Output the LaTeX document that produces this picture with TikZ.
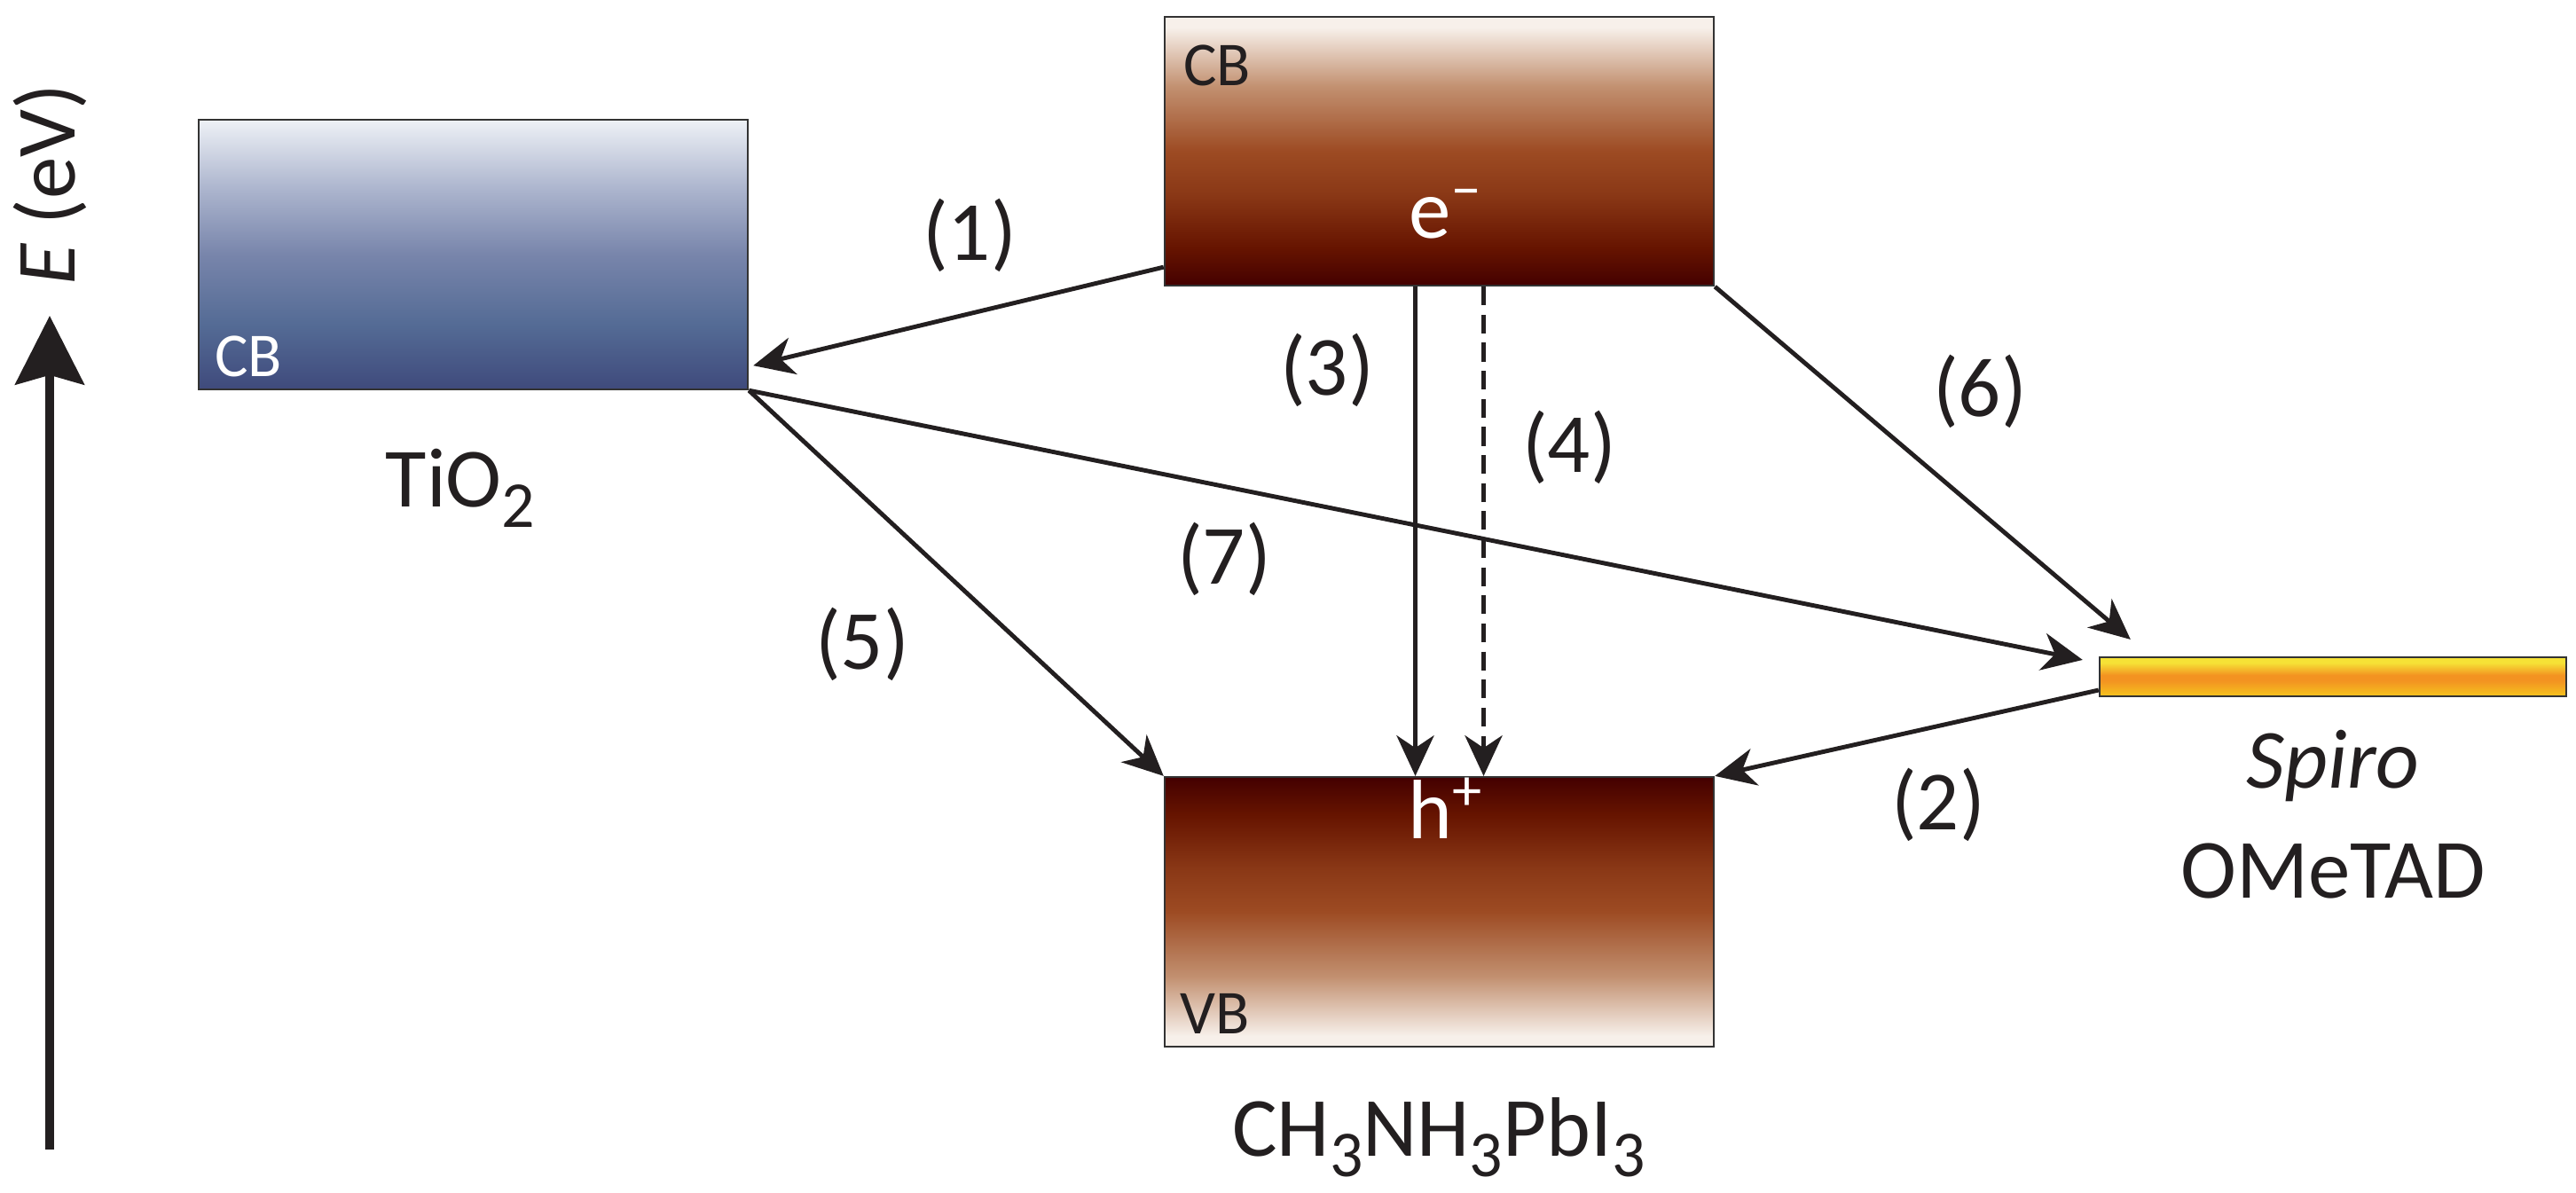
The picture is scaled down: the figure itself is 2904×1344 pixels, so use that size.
\documentclass[tikz,border=0pt]{standalone}
\usepackage{fontspec}
\setmainfont{Carlito}
\usetikzlibrary{arrows.meta,calc}
\definecolor{ink}{HTML}{231F20}
\definecolor{boxline}{HTML}{333333}
\definecolor{tioA}{HTML}{EEF1F6}
\definecolor{tioB}{HTML}{ABB4CD}
\definecolor{tioC}{HTML}{7885AB}
\definecolor{tioD}{HTML}{546B95}
\definecolor{tioE}{HTML}{3F4A7C}
\definecolor{pkA}{HTML}{F7F0EA}
\definecolor{pkB}{HTML}{C29070}
\definecolor{pkC}{HTML}{9D4B23}
\definecolor{pkD}{HTML}{8A3816}
\definecolor{pkE}{HTML}{661400}
\definecolor{pkF}{HTML}{440000}
\definecolor{spA}{HTML}{F6E236}
\definecolor{spB}{HTML}{F39321}
\definecolor{spC}{HTML}{F5C41E}
\pgfdeclareverticalshading{tioshade}{100bp}{color(0bp)=(tioE); color(25bp)=(tioE);
  color(37bp)=(tioD); color(50bp)=(tioC); color(62bp)=(tioB); color(75bp)=(tioA); color(100bp)=(tioA)}
\pgfdeclareverticalshading{cbshade}{100bp}{color(0bp)=(pkF); color(25bp)=(pkF);
  color(32bp)=(pkE); color(42bp)=(pkD); color(50bp)=(pkC); color(62bp)=(pkB); color(73bp)=(pkA); color(100bp)=(pkA)}
\pgfdeclareverticalshading{vbshade}{100bp}{color(0bp)=(pkA); color(27bp)=(pkA);
  color(38bp)=(pkB); color(50bp)=(pkC); color(58bp)=(pkD); color(68bp)=(pkE); color(75bp)=(pkF); color(100bp)=(pkF)}
\pgfdeclareverticalshading{spshade}{100bp}{color(0bp)=(spC); color(25bp)=(spC);
  color(45bp)=(spB); color(52bp)=(spB); color(68bp)=(spA); color(100bp)=(spA)}
\newcommand{\chsub}[1]{\raisebox{-0.5ex}{\fontsize{21}{24}\selectfont #1}}
\tikzset{
  band/.style={draw=boxline, line width=0.6pt, shade, inner sep=0pt},
  tiobox/.style={band, shading=tioshade, minimum width=6.19cm, minimum height=3.04cm},
  cbbox/.style={band, shading=cbshade, minimum width=6.19cm, minimum height=3.03cm},
  vbbox/.style={band, shading=vbshade, minimum width=6.19cm, minimum height=3.04cm},
  spirobox/.style={band, shading=spshade, minimum width=5.26cm, minimum height=0.44cm},
  lbl/.style={text=ink, font=\fontsize{27}{32}\selectfont, inner sep=0pt},
  bandlbl/.style={font=\fontsize{20}{24}\selectfont, inner sep=0pt},
  arr/.style={draw=ink, line width=1.4pt, -{Stealth[length=13pt, width=12pt, inset=4pt]}},
  axarr/.style={draw=ink, line width=2.8pt, -{Stealth[length=22pt, width=22pt, inset=3pt]}}
}
\begin{document}
\begin{tikzpicture}[x=0.01cm,y=-0.01cm]
  \useasboundingbox (0,0) rectangle (2904,1344);
  % energy axis
  \coordinate (axbot) at (56,1296);
  \coordinate (axtop) at (56,356);
  \draw[axarr] (axbot) -- (axtop);
  \node[lbl, rotate=90] (elbl) at (56,208) {\textit{E} (eV)};
  % bands
  \node[tiobox] (tio) at (533.5,287) {};
  \node[cbbox] (cb) at (1622.5,170.5) {};
  \node[vbbox] (vb) at (1622.5,1028) {};
  \node[spirobox] (spiro) at (2630,763) {};
  \node[bandlbl, text=white] (tiocb) at (280,402) {CB};
  \node[bandlbl, text=ink] (pkcb) at (1372,74) {CB};
  \node[bandlbl, text=ink] (pkvb) at (1370,1143) {VB};
  \node[lbl, text=white] (elec) at (1630,241) {e\textsuperscript{−}};
  \node[lbl, text=white] (hole) at (1630,911) {h\textsuperscript{+}};
  % material names
  \node[lbl] (tioname) at (519,550) {TiO\chsub{2}};
  \node[lbl] (pkname) at (1622,1282) {CH\chsub{3}NH\chsub{3}PbI\chsub{3}};
  \node[lbl] (spname) at (2630,863) {\textit{Spiro}};
  \node[lbl] (omname) at (2630,982) {OMeTAD};
  % transfer paths
  \draw[arr] ($(cb.south west)+(0,-22)$) -- ($(tio.south east)+(5,-28)$);
  \draw[arr] ($(spiro.west)+(0,15)$) -- (vb.north east);
  \draw[arr] ($(cb.south)+(-27,0)$) -- ($(vb.north)+(-27,0)$);
  \draw[arr, dash pattern=on 6pt off 3pt] ($(cb.south)+(50,0)$) -- ($(vb.north)+(50,0)$);
  \draw[arr] (tio.south east) -- (vb.north west);
  \draw[arr] (cb.south east) -- ($(spiro.north west)+(36,-19)$);
  \draw[arr] (tio.south east) -- ($(spiro.north west)+(-18,4)$);
  \node[lbl] (p1) at (1093,265) {(1)};
  \node[lbl] (p2) at (2185,907) {(2)};
  \node[lbl] (p3) at (1496,417) {(3)};
  \node[lbl] (p4) at (1769,504) {(4)};
  \node[lbl] (p5) at (972,726) {(5)};
  \node[lbl] (p6) at (2232,441) {(6)};
  \node[lbl] (p7) at (1380,630) {(7)};
\end{tikzpicture}
\end{document}
